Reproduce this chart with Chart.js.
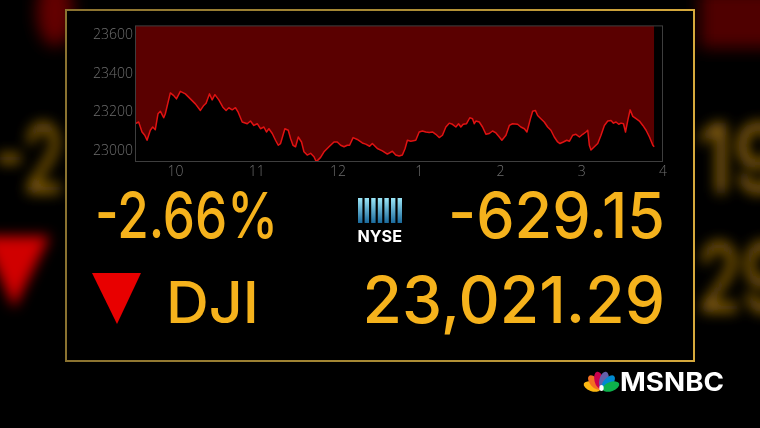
<!DOCTYPE html>
<html><head><meta charset="utf-8">
<script src="https://cdn.jsdelivr.net/npm/chart.js@4.4.0/dist/chart.umd.min.js"></script>
<style>
html,body{margin:0;padding:0;background:#000;width:760px;height:428px;overflow:hidden}
#bg,#fg{position:absolute;left:0;top:0}
#wrap{position:absolute;left:80px;top:15px;width:600px;height:170px}
</style></head><body>
<svg id="bg" width="760" height="428">
  <defs>
    <filter id="blur" x="-50%" y="-50%" width="200%" height="200%"><feGaussianBlur stdDeviation="6.5"/></filter>
    <filter id="blur2" x="-50%" y="-50%" width="200%" height="200%"><feGaussianBlur stdDeviation="8"/></filter>
    <linearGradient id="gold" x1="0" y1="0" x2="1" y2="0">
      <stop offset="0" stop-color="#8a7230"/><stop offset="0.5" stop-color="#a88a34"/><stop offset="1" stop-color="#d6a93c"/>
    </linearGradient>
  </defs>
  <g filter="url(#blur2)">
    <ellipse cx="55" cy="12" rx="18" ry="34" fill="#640000"/>
    <rect x="700" y="-10" width="80" height="58" fill="#500000"/>
  </g>
  <g filter="url(#blur)">
    <text x="-6" y="193" font-family="Inter" font-weight="500" font-size="96" fill="#936810" textLength="70" lengthAdjust="spacingAndGlyphs">-2</text>
    <polygon points="-18,236 50,236 14,308" fill="#d00000"/>
    <text x="697" y="193" font-family="Inter" font-weight="500" font-size="96" fill="#936810" textLength="90" lengthAdjust="spacingAndGlyphs">19</text>
    <text x="697" y="312" font-family="Inter" font-weight="500" font-size="96" fill="#936810" textLength="90" lengthAdjust="spacingAndGlyphs">29</text>
  </g>
  <rect x="66" y="10" width="628" height="351" fill="#000" stroke="url(#gold)" stroke-width="2"/>
</svg>
<div id="wrap"><canvas id="c" width="600" height="170"></canvas></div>
<svg id="fg" width="760" height="428">
  <defs>
    <linearGradient id="nyse" x1="0" y1="0" x2="0" y2="1">
      <stop offset="0" stop-color="#9be6f7"/><stop offset="1" stop-color="#1a6a9c"/>
    </linearGradient>
  </defs>
  <g font-family="Inter" font-weight="500" fill="#f5b21c">
    <text x="95" y="237.5" font-size="63" textLength="183" lengthAdjust="spacingAndGlyphs">-2.66%</text>
    <text x="448" y="237.5" font-size="63" textLength="217" lengthAdjust="spacingAndGlyphs">-629.15</text>
    <text x="166" y="322.7" font-size="57" textLength="93" lengthAdjust="spacingAndGlyphs">DJI</text>
    <text x="362.5" y="322.7" font-size="65" textLength="302.5" lengthAdjust="spacingAndGlyphs">23,021.29</text>
  </g>
  <polygon points="92,273 141,273 117,324" fill="#e80000"/>
  <g fill="url(#nyse)">
    <rect x="358" y="198" width="4.4" height="25"/>
    <rect x="364.6" y="198" width="4.4" height="25"/>
    <rect x="371.2" y="198" width="4.4" height="25"/>
    <rect x="377.8" y="198" width="4.4" height="25"/>
    <rect x="384.4" y="198" width="4.4" height="25"/>
    <rect x="391" y="198" width="4.4" height="25"/>
    <rect x="397.6" y="198" width="4.4" height="25"/>
  </g>
  <text x="357.5" y="242" font-family="Inter" font-weight="700" font-size="16.5" fill="#fff" textLength="44.5" lengthAdjust="spacingAndGlyphs">NYSE</text>
  <g transform="translate(601.5,390)">
    <ellipse cx="0" cy="-10" rx="4.6" ry="8.8" fill="#fcb711" transform="rotate(-70)"/>
    <ellipse cx="0" cy="-10" rx="4.6" ry="8.8" fill="#f37021" transform="rotate(-42)"/>
    <ellipse cx="0" cy="-10" rx="4.6" ry="8.8" fill="#cc004c" transform="rotate(-14)"/>
    <ellipse cx="0" cy="-10" rx="4.6" ry="8.8" fill="#6460aa" transform="rotate(14)"/>
    <ellipse cx="0" cy="-10" rx="4.6" ry="8.8" fill="#0089d0" transform="rotate(42)"/>
    <ellipse cx="0" cy="-10" rx="4.6" ry="8.8" fill="#0db14b" transform="rotate(70)"/>
    <ellipse cx="0" cy="-2" rx="2.2" ry="3" fill="#fff"/>
  </g>
  <text x="620" y="391" font-family="Inter" font-weight="700" font-size="26" fill="#fff" textLength="104" lengthAdjust="spacingAndGlyphs">MSNBC</text>
</svg>
<script>
// Minutes after the 9:30 open
const minutesAfterOpen = [
  0,2.7,5.2,7.2,8.9,11.3,13.1,15.0,17.0,18.7,21.2,22.4,26.1,28.6,30.6,33.5,37.2,40.9,44.6,48.3,
  50.8,52.5,55.0,57.0,59.0,61.9,64.9,67.3,69.3,71.8,74.2,76.2,79.2,82.9,85.3,87.8,90.3,92.7,95.2,97.1,
  98.9,101.4,103.8,105.8,107.5,109.3,110.7,113.2,114.9,116.7,118.6,120.6,123.0,124.8,127.2,129.7,132.2,133.9,137.1,139.6,
  143.3,147.0,149.4,151.9,154.4,156.8,158.5,161.1,164.2,167.9,170.4,173.3,175.3,179.0,182.7,186.4,190.1,192.6,195.1,197.5,
  199.5,201.2,203.7,207.4,209.9,212.3,214.8,217.3,219.7,222.2,224.7,227.1,229.6,232.1,234.5,237.0,239.0,240.7,242.4,244.9,
  247.3,249.3,250.6,251.8,254.3,256.7,259.2,261.7,264.1,266.6,269.1,271.0,274.0,276.5,278.9,282.6,285.0,287.6,289.5,292.4,
  293.7,295.7,297.4,299.8,302.3,304.8,307.2,309.7,312.2,313.9,316.4,318.9,320.9,323.3,325.7,328.3,330.7,333.1,334.4,335.6,
  336.8,339.3,341.8,344.2,346.7,349.2,351.6,353.4,355.3,357.3,359.0,360.8,362.3,364.0,365.7,367.7,370.1,372.6,375.1,377.5,
  380.0,382.5,383.5
];
const dowValues = [
  23141,23150,23098,23081,23055,23107,23124,23110,23193,23206,23172,23193,23301,23287,23270,23309,23296,23270,23244,23210,
  23236,23247,23296,23265,23292,23265,23227,23210,23224,23213,23224,23201,23150,23141,23155,23132,23141,23115,23124,23098,
  23115,23090,23055,23029,23038,23081,23115,23107,23064,23029,23021,23072,23046,22995,22978,22987,22969,22943,22966,22995,
  23021,23046,23046,23029,23021,23029,23029,23069,23059,23041,23035,23024,23038,23012,23000,22983,22998,22978,22973,22978,
  23012,23055,23050,23055,23098,23103,23098,23095,23098,23086,23069,23081,23124,23144,23138,23124,23141,23124,23138,23141,
  23172,23167,23141,23155,23150,23124,23086,23090,23103,23093,23072,23055,23081,23132,23141,23138,23124,23115,23098,23175,
  23206,23210,23184,23167,23150,23124,23107,23072,23046,23038,23046,23055,23050,23081,23086,23072,23086,23098,23107,23029,
  23004,23021,23038,23081,23132,23155,23158,23144,23150,23138,23144,23141,23098,23158,23213,23179,23167,23155,23132,23107,
  23072,23029,23021
];
const xTickMinutes = [30,90,150,210,270,330,390];
const xTickLabels = ['10','11','12','1','2','3','4'];
const yTickValues = [23000,23200,23400,23600];
const yRange = [22942, 23652];
const xRange = [0, 390];

const points = minutesAfterOpen.map((m,i)=>({x:m, y:dowValues[i]}));

const boxPlugin = {
  id:'box',
  afterDraw(chart){
    const {ctx, chartArea:a} = chart;
    ctx.save();
    ctx.strokeStyle = '#3e3e3e';
    ctx.lineWidth = 1;
    ctx.strokeRect(a.left+0.5, a.top+0.5, a.right-a.left-1, a.bottom-a.top-1);
    ctx.restore();
  }
};

const tickFont = {family:'Open Sans', size:14, weight:'300'};

new Chart(document.getElementById('c'), {
  type:'line',
  data:{datasets:[{
    data: points,
    borderColor:'#e01212',
    borderWidth:1.5,
    backgroundColor:'#5a0000',
    fill:'end',
    pointRadius:0,
    tension:0,
    borderJoinStyle:'round'
  }]},
  options:{
    responsive:false,
    devicePixelRatio:1,
    animation:false,
    layout:{padding:{top:9,right:17,left:0,bottom:0}},
    plugins:{legend:{display:false}, tooltip:{enabled:false}},
    scales:{
      x:{
        type:'linear', min:xRange[0], max:xRange[1],
        afterBuildTicks: s => { s.ticks = xTickMinutes.map(v=>({value:v})); },
        afterFit: s => { s.height = 23; },
        ticks:{callback:(v,i)=>xTickLabels[i], color:'#6e6e6e', font:tickFont, padding:2, maxRotation:0, autoSkip:false},
        grid:{display:false, drawTicks:false},
        border:{display:false}
      },
      y:{
        type:'linear', min:yRange[0], max:yRange[1],
        afterBuildTicks: s => { s.ticks = yTickValues.map(v=>({value:v})); },
        afterFit: s => { s.width = 55; },
        ticks:{callback:v=>String(v), color:'#6e6e6e', font:tickFont, padding:2},
        grid:{display:false, drawTicks:false},
        border:{display:false}
      }
    }
  },
  plugins:[boxPlugin]
});
</script>
</body></html>
